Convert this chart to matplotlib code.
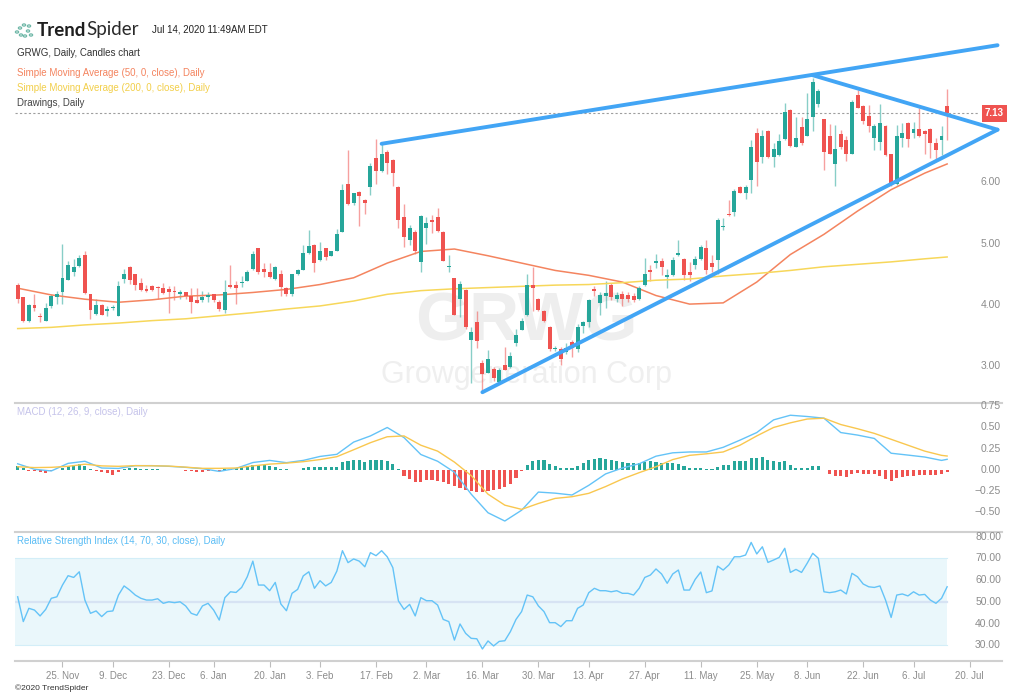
import numpy as np
import pandas as pd
import matplotlib
matplotlib.use("Agg")
import matplotlib.pyplot as plt

# trading sessions (US market holidays removed)
holidays = ["2019-11-28", "2019-12-25", "2020-01-01", "2020-01-20",
            "2020-02-17", "2020-04-10", "2020-05-25", "2020-07-03"]
calendar = pd.bdate_range("2019-11-13", "2020-07-31", freq="C", holidays=holidays)

# GRWG daily candles, 13 Nov 2019 .. 14 Jul 2020
opens = [4.33, 4.12, 3.73, 3.99, 3.82, 3.74, 3.98, 4.13, 4.20, 4.41, 4.54, 4.63, 4.82, 4.17, 3.85, 3.99, 3.89,
         3.94, 3.82, 4.42, 4.62, 4.50, 4.36, 4.25, 4.31, 4.29, 4.27, 4.26, 4.23, 4.18, 4.20, 4.15, 4.08, 4.07,
         4.13, 4.17, 4.05, 3.92, 4.33, 4.32, 4.36, 4.39, 4.59, 4.92, 4.58, 4.54, 4.42, 4.51, 4.27, 4.18, 4.50,
         4.57, 4.84, 4.98, 4.73, 4.92, 4.80, 4.88, 5.19, 5.98, 5.66, 5.84, 5.71, 5.93, 6.39, 6.19, 6.50, 6.36,
         5.93, 5.43, 5.05, 5.19, 4.70, 5.25, 5.38, 5.43, 5.19, 4.62, 4.43, 4.09, 4.24, 3.42, 3.72, 3.05, 2.89,
         2.95, 2.74, 3.02, 2.98, 3.38, 3.59, 3.83, 4.32, 4.10, 3.89, 3.64, 3.27, 3.27, 3.22, 3.39, 3.27, 3.65,
         3.72, 4.25, 4.03, 4.15, 4.32, 4.10, 4.17, 4.16, 4.14, 4.09, 4.32, 4.57, 4.68, 4.72, 4.46, 4.49, 4.81,
         4.74, 4.54, 4.65, 4.74, 4.92, 4.68, 4.73, 5.27, 5.49, 5.52, 5.92, 5.83, 6.03, 6.80, 6.41, 6.84, 6.42,
         6.45, 6.70, 7.18, 6.58, 6.90, 6.76, 7.06, 7.28, 7.03, 6.76, 6.30, 6.79, 6.69, 6.47, 7.43, 7.24, 7.08,
         6.72, 6.66, 6.92, 6.47, 5.97, 6.72, 6.97, 6.81, 6.87, 6.84, 6.87, 6.64, 6.69, 7.25]
highs = [4.36, 4.12, 4.01, 4.17, 3.87, 4.03, 4.17, 4.22, 4.99, 4.71, 4.74, 4.81, 4.88, 4.18, 4.10, 4.01, 3.98,
         3.99, 4.39, 4.59, 4.63, 4.51, 4.43, 4.33, 4.32, 4.31, 4.36, 4.30, 4.31, 4.24, 4.21, 4.27, 4.27, 4.23,
         4.21, 4.18, 4.08, 4.40, 4.65, 4.38, 4.47, 4.57, 4.88, 4.92, 4.68, 4.68, 4.63, 4.57, 4.29, 4.51, 4.59,
         4.98, 5.22, 4.99, 5.03, 4.92, 4.88, 5.23, 5.98, 6.53, 5.83, 5.86, 5.72, 6.31, 6.70, 6.63, 6.52, 6.38,
         5.94, 5.65, 5.30, 5.22, 5.47, 5.43, 5.47, 5.58, 5.20, 4.81, 4.44, 4.38, 4.25, 3.64, 3.89, 3.09, 3.26,
         2.98, 2.96, 3.31, 3.22, 3.60, 3.78, 4.51, 4.61, 4.11, 3.91, 3.65, 3.32, 3.31, 3.37, 3.43, 3.69, 3.74,
         4.10, 4.30, 4.20, 4.38, 4.35, 4.20, 4.23, 4.20, 4.19, 4.31, 4.77, 4.65, 4.83, 4.76, 4.59, 4.78, 5.06,
         4.77, 4.70, 4.80, 4.97, 5.06, 4.81, 5.41, 5.41, 5.71, 5.89, 5.94, 5.96, 6.69, 6.88, 6.86, 6.85, 6.65,
         6.79, 7.30, 7.19, 7.06, 7.06, 7.46, 7.71, 7.52, 7.04, 6.95, 6.94, 6.85, 6.76, 7.34, 7.51, 7.26, 7.26,
         6.95, 7.28, 6.94, 6.47, 6.94, 6.97, 6.99, 6.99, 7.21, 6.85, 6.88, 6.72, 6.92, 7.52]
lows = [4.02, 3.72, 3.72, 3.89, 3.72, 3.73, 3.95, 4.01, 4.01, 4.40, 4.47, 4.62, 4.18, 3.76, 3.84, 3.83, 3.82,
        3.92, 3.81, 4.35, 4.34, 4.24, 4.23, 4.21, 4.23, 4.10, 4.18, 3.86, 4.08, 4.09, 4.09, 3.87, 4.02, 4.05,
        4.05, 4.05, 3.89, 3.87, 4.27, 4.01, 4.29, 4.38, 4.57, 4.50, 4.45, 4.43, 4.40, 4.14, 4.14, 4.14, 4.49,
        4.56, 4.83, 4.54, 4.72, 4.73, 4.79, 4.87, 5.18, 5.63, 5.63, 5.29, 5.49, 5.79, 5.98, 6.17, 6.14, 5.94,
        5.25, 4.94, 4.98, 4.83, 4.54, 5.00, 5.17, 5.19, 4.71, 4.54, 3.83, 3.80, 3.61, 2.72, 3.29, 2.58, 2.88,
        2.76, 2.73, 2.93, 2.96, 3.33, 3.58, 3.82, 3.89, 3.89, 3.71, 3.25, 3.25, 3.02, 3.20, 3.15, 3.22, 3.53,
        3.64, 4.14, 3.83, 3.94, 4.07, 4.05, 3.98, 4.05, 4.05, 4.07, 4.30, 4.39, 4.60, 4.49, 4.27, 4.47, 4.79,
        4.40, 4.39, 4.59, 4.73, 4.51, 4.54, 4.51, 5.22, 5.45, 5.45, 5.82, 5.72, 5.82, 5.94, 6.31, 6.39, 6.25,
        6.43, 6.69, 6.57, 6.57, 6.61, 6.75, 6.84, 7.23, 6.20, 6.46, 5.94, 6.55, 6.35, 6.46, 7.21, 6.96, 6.83,
        6.52, 6.52, 6.43, 5.94, 5.96, 6.57, 6.57, 6.72, 6.74, 6.46, 6.39, 6.37, 6.45, 6.69]
closes = [4.09, 3.73, 3.99, 3.94, 3.80, 3.94, 4.14, 4.17, 4.43, 4.65, 4.62, 4.77, 4.19, 3.92, 3.99, 3.84, 3.93,
          3.96, 4.31, 4.50, 4.41, 4.32, 4.24, 4.22, 4.24, 4.27, 4.19, 4.20, 4.20, 4.21, 4.14, 4.05, 4.02, 4.13,
          4.16, 4.07, 3.93, 4.21, 4.29, 4.27, 4.37, 4.54, 4.83, 4.54, 4.53, 4.46, 4.61, 4.29, 4.18, 4.50, 4.56,
          4.84, 4.96, 4.68, 4.88, 4.78, 4.87, 5.16, 5.88, 5.65, 5.82, 5.77, 5.67, 6.27, 6.19, 6.46, 6.32, 6.15,
          5.39, 5.10, 5.26, 4.87, 5.45, 5.34, 5.35, 5.20, 4.72, 4.64, 3.84, 4.34, 3.63, 3.56, 3.40, 2.87, 3.11,
          2.80, 2.93, 2.94, 3.16, 3.51, 3.74, 4.32, 4.28, 3.92, 3.74, 3.27, 3.29, 3.12, 3.30, 3.30, 3.64, 3.72,
          4.08, 4.23, 4.16, 4.19, 4.13, 4.16, 4.10, 4.09, 4.08, 4.27, 4.50, 4.54, 4.72, 4.62, 4.49, 4.73, 4.84,
          4.49, 4.49, 4.74, 4.94, 4.56, 4.61, 5.38, 5.29, 5.47, 5.85, 5.83, 5.93, 6.58, 6.34, 6.76, 6.41, 6.54,
          6.68, 7.15, 6.59, 6.72, 6.65, 7.03, 7.64, 7.50, 6.50, 6.46, 6.54, 6.57, 6.46, 7.32, 7.22, 7.01, 6.92,
          6.92, 6.97, 6.45, 5.96, 6.76, 6.81, 6.70, 6.87, 6.75, 6.79, 6.64, 6.53, 6.75, 7.13]

# moving averages, read every 6th session (last point = last session)
sma50 = [4.27, 4.16, 4.09, 4.04, 4.08, 4.14, 4.16, 4.20, 4.25, 4.33, 4.44, 4.68, 4.87, 4.91, 4.80,
         4.68, 4.56, 4.48, 4.37, 4.15, 4.01, 4.03, 4.37, 4.82, 5.15, 5.53, 5.88, 6.15, 6.30]
sma200 = [3.61, 3.63, 3.67, 3.70, 3.74, 3.77, 3.82, 3.87, 3.93, 3.98, 4.06, 4.17, 4.23, 4.26, 4.28,
          4.30, 4.32, 4.33, 4.36, 4.40, 4.42, 4.47, 4.51, 4.56, 4.62, 4.66, 4.70, 4.75, 4.78]

# MACD (12, 26, 9) lines, read every 3rd session
macd_line = [0.07, 0.005, -0.015, 0.075, 0.10, 0.02, 0.015, 0.048, 0.048, 0.04, 0.028, 0.012, -0.02,
             0.015, 0.085, 0.11, 0.083, 0.11, 0.157, 0.182, 0.327, 0.40, 0.50, 0.38, 0.18, 0.10, -0.03,
             -0.29, -0.51, -0.608, -0.48, -0.265, -0.278, -0.30, -0.185, -0.05, 0.02, 0.07, 0.16, 0.20,
             0.21, 0.21, 0.265, 0.35, 0.44, 0.59, 0.645, 0.63, 0.61, 0.44, 0.41, 0.37, 0.195, 0.173, 0.15,
             0.11, 0.123]
signal_line = [0.035, 0.025, 0.028, 0.04, 0.065, 0.045, 0.04, 0.048, 0.046, 0.043, 0.03, 0.016, 0.016,
               0.02, 0.045, 0.066, 0.078, 0.095, 0.12, 0.154, 0.236, 0.32, 0.39, 0.40, 0.29, 0.22, 0.09,
               -0.07, -0.29, -0.42, -0.47, -0.40, -0.34, -0.32, -0.28, -0.20, -0.11, -0.035, 0.035, 0.12,
               0.17, 0.188, 0.21, 0.29, 0.40, 0.50, 0.555, 0.60, 0.61, 0.535, 0.485, 0.43, 0.36, 0.29,
               0.22, 0.17, 0.162]
macd_hist = [0.04, 0.02, -0.01, -0.02, -0.03, -0.035, -0.02, -0.005, 0.02, 0.04, 0.06, 0.065, 0.04, 0.01,
             -0.01, -0.03, -0.045, -0.06, -0.03, 0.01, 0.02, 0.02, 0.01, 0.01, 0.003, 0.003, -0.008, -0.008,
             -0.008, -0.008, -0.01, -0.02, -0.03, -0.03, -0.02, -0.02, -0.02, 0.003, 0.01, 0.02, 0.03, 0.04,
             0.055, 0.055, 0.05, 0.04, 0.03, 0.01, 0.004, -0.005, -0.005, 0.02, 0.03, 0.03, 0.03, 0.03, 0.03,
             0.035, 0.09, 0.10, 0.115, 0.11, 0.095, 0.11, 0.11, 0.115, 0.10, 0.07, 0.004, -0.07, -0.11,
             -0.15, -0.14, -0.125, -0.125, -0.135, -0.15, -0.165, -0.195, -0.22, -0.235, -0.25, -0.265,
             -0.27, -0.25, -0.24, -0.225, -0.20, -0.165, -0.10, -0.01, 0.06, 0.10, 0.11, 0.11, 0.07, 0.04,
             0.015, 0.015, 0.02, 0.04, 0.075, 0.115, 0.13, 0.135, 0.13, 0.12, 0.10, 0.095, 0.08, 0.075, 0.08,
             0.09, 0.10, 0.09, 0.08, 0.075, 0.075, 0.065, 0.04, 0.025, 0.02, 0.025, 0.01, 0.004, 0.035, 0.05,
             0.06, 0.10, 0.10, 0.10, 0.135, 0.14, 0.15, 0.12, 0.105, 0.095, 0.10, 0.06, 0.02, 0.015, 0.015,
             0.04, 0.04, -0.005, -0.05, -0.07, -0.08, -0.09, -0.05, -0.04, -0.05, -0.05, -0.05, -0.07, -0.11,
             -0.13, -0.10, -0.09, -0.08, -0.07, -0.06, -0.06, -0.06, -0.06, -0.055, -0.03]

# RSI (14)
rsi = [52.3, 40.9, 47.0, 46.2, 43.5, 46.5, 51.6, 52.3, 57.7, 62.0, 61.2, 63.8, 50.8, 44.7, 45.8, 43.2, 45.5,
       45.8, 53.1, 57.3, 55.4, 53.1, 51.6, 50.8, 50.8, 51.4, 49.3, 50.0, 49.6, 50.0, 48.1, 44.7, 43.8, 48.1,
       49.3, 46.2, 41.6, 51.9, 54.6, 54.3, 56.6, 61.5, 68.7, 57.7, 57.7, 55.1, 58.9, 49.0, 45.9, 53.9, 55.7,
       61.9, 63.8, 56.2, 59.7, 57.3, 58.9, 64.1, 73.5, 68.0, 69.7, 68.7, 66.1, 72.6, 71.2, 73.5, 70.7, 65.7,
       50.4, 46.5, 48.8, 43.5, 51.9, 50.5, 50.5, 48.5, 41.9, 40.9, 32.4, 39.8, 35.5, 33.2, 33.0, 28.3, 32.0,
       29.7, 31.8, 32.1, 36.3, 41.9, 45.5, 53.1, 52.3, 48.1, 45.5, 40.4, 40.4, 38.6, 41.3, 41.3, 47.0, 48.5,
       54.2, 56.2, 55.1, 55.1, 54.6, 55.1, 53.9, 53.9, 53.1, 56.2, 61.2, 62.3, 65.1, 62.8, 58.5, 62.8, 64.6,
       55.4, 55.4, 60.3, 63.7, 54.2, 55.0, 66.4, 64.6, 66.9, 70.7, 70.7, 71.5, 77.3, 72.0, 75.3, 68.1, 69.2,
       70.4, 74.6, 63.5, 64.9, 63.5, 67.7, 72.3, 70.0, 54.6, 54.2, 54.6, 55.4, 53.6, 63.1, 61.5, 58.2, 56.9,
       56.6, 57.3, 50.8, 42.8, 53.1, 53.6, 52.7, 54.6, 53.1, 53.4, 50.8, 49.3, 51.6, 56.9]

# user drawings: ((date, price), (date, price))
drawings = [(("2020-02-19", 6.63), ("2020-07-27", 8.24)),
            (("2020-06-09", 7.75), ("2020-07-27", 6.86)),
            (("2020-03-16", 2.57), ("2020-07-27", 6.86))]

tick_dates = ["2019-11-25", "2019-12-09", "2019-12-23", "2020-01-06", "2020-01-20", "2020-02-03",
              "2020-02-17", "2020-03-02", "2020-03-16", "2020-03-30", "2020-04-13", "2020-04-27",
              "2020-05-11", "2020-05-25", "2020-06-08", "2020-06-22", "2020-07-06", "2020-07-20"]

UP = "#26a69a"
DOWN = "#ef5350"
GREY = "#8c8c8c"
FONT = ["Liberation Sans", "DejaVu Sans"]


def pos(date):
    return calendar.searchsorted(pd.Timestamp(date))


n = len(closes)
x = np.arange(n)
o, h, l, c = map(np.array, (opens, highs, lows, closes))
up = c >= o
col = np.where(up, UP, DOWN)

W, H = 1024, 695
fig = plt.figure(figsize=(W / 100, H / 100), dpi=100)


def box(top, bottom):
    return [15 / W, 1 - bottom / H, (1002 - 15) / W, (bottom - top) / H]


ax = fig.add_axes(box(0, 403))
ax_macd = fig.add_axes(box(403, 532), sharex=ax)
ax_rsi = fig.add_axes(box(532, 661), sharex=ax)

for a in (ax, ax_macd, ax_rsi):
    for s in a.spines.values():
        s.set_visible(False)
    a.tick_params(left=False, right=False, labelleft=False, bottom=False, labelbottom=False)

ax.set_xlim(-0.48, 175.8)
ax.set_ylim(2.394, 8.979)
ax_macd.set_ylim(-0.738, 0.790)
ax_rsi.set_ylim(22.78, 82.09)

# watermark
ax.text(0.518, 0.2, "GRWG", transform=ax.transAxes, ha="center", va="center", fontsize=50,
        fontweight="bold", color="#eeeeee", family=FONT, zorder=0)
ax.text(0.518, 0.07, "Growgeneration Corp", transform=ax.transAxes, ha="center", va="center",
        fontsize=22, color="#efefef", family=FONT, zorder=0)

# candles
ax.vlines(x, l, h, colors=col, linewidth=1, alpha=0.55, zorder=2)
ax.bar(x, np.maximum(np.abs(c - o), 0.015), bottom=np.minimum(o, c), width=0.7, color=col,
       linewidth=0, zorder=3)

# moving averages
sma_x = list(range(0, n - 1, 6)) + [n - 1]
ax.plot(sma_x, sma50, color="#f4845f", lw=1.1, zorder=2)
ax.plot(sma_x, sma200, color="#f7d75a", lw=1.1, zorder=2)

# drawings
for (d0, p0), (d1, p1) in drawings:
    ax.plot([pos(d0), pos(d1)], [p0, p1], color="#42a5f5", lw=2.8, solid_capstyle="round", zorder=5)

# last price line + tag
ax.plot([-0.48, 171.5], [c[-1], c[-1]], color="#9e9e9e", lw=0.8, ls=(0, (2, 2)), zorder=1)
ax.text(0.9924, c[-1], f"{c[-1]:.2f}", transform=ax.get_yaxis_transform(), ha="center", va="center",
        fontsize=7, fontweight="bold", color="white", family=FONT, zorder=6,
        bbox=dict(boxstyle="square,pad=0.35", fc=DOWN, ec="none"))

for v in [3, 4, 5, 6]:
    ax.text(0.999, v, f"{v:.2f}", transform=ax.get_yaxis_transform(), ha="right", va="center",
            fontsize=7.5, color=GREY, family=FONT)

# MACD panel
macd_x = list(range(0, n - 1, 3)) + [n - 1]
hist = np.array(macd_hist)
ax_macd.bar(x, hist, width=0.55, color=np.where(hist >= 0, UP, DOWN), linewidth=0, zorder=2)
ax_macd.plot(macd_x, macd_line, color="#64c3f7", lw=1.0, zorder=3)
ax_macd.plot(macd_x, signal_line, color="#f9c74f", lw=1.0, zorder=3)
for v in [0.75, 0.5, 0.25, 0.0, -0.25, -0.5]:
    ax_macd.text(0.999, v, f"{v:.2f}".replace("-", "\u2212"), transform=ax_macd.get_yaxis_transform(),
                 ha="right", va="center", fontsize=7.5, color=GREY, family=FONT)
ax_macd.spines["top"].set_visible(True)
ax_macd.spines["top"].set_color("#d0d0d0")
ax_macd.spines["top"].set_linewidth(1.5)
ax_macd.text(0.002, 0.93, "MACD (12, 26, 9, close), Daily", transform=ax_macd.transAxes, ha="left",
             va="center", fontsize=7, color="#c5c3ea", family=FONT)

# RSI panel
ax_rsi.fill_between([-0.48, n - 1], 30, 70, color="#eaf7fb", lw=0, zorder=0)
ax_rsi.plot([-0.48, n - 1], [70, 70], color="#d3eef8", lw=0.8, zorder=1)
ax_rsi.plot([-0.48, n - 1], [30, 30], color="#d3eef8", lw=0.8, zorder=1)
ax_rsi.plot([-0.48, n - 1], [50, 50], color="#d7e3f3", lw=1.6, zorder=1)
ax_rsi.plot(x, rsi, color="#64c3f7", lw=1.0, zorder=3)
for v in [80, 70, 60, 50, 40, 30]:
    ax_rsi.text(0.999, v, f"{v:.2f}", transform=ax_rsi.get_yaxis_transform(), ha="right", va="center",
                fontsize=7.5, color=GREY, family=FONT)
for side in ("top", "bottom"):
    ax_rsi.spines[side].set_visible(True)
    ax_rsi.spines[side].set_color("#d0d0d0")
    ax_rsi.spines[side].set_linewidth(1.5)
ax_rsi.text(0.002, 0.93, "Relative Strength Index (14, 70, 30, close), Daily", transform=ax_rsi.transAxes,
            ha="left", va="center", fontsize=7, color="#5bbdf5", family=FONT)

ticks = [pos(d) for d in tick_dates]
labels = [f"{pd.Timestamp(d).day}. {pd.Timestamp(d):%b}" for d in tick_dates]
ax_rsi.set_xticks(ticks)
ax_rsi.set_xticklabels(labels, fontsize=7, color=GREY, family=FONT)
ax_rsi.tick_params(axis="x", bottom=True, labelbottom=True, direction="out", length=4, width=0.8,
                   color="#bdbdbd", pad=3)

# header
logo_dots = [(17, 32), (20, 28), (21, 35), (24, 25), (25, 36), (28, 31), (29, 26), (31, 35)]
for px, py in logo_dots:
    fig.patches.append(plt.Circle((px / W, 1 - py / H), 1.6 / W, transform=fig.transFigure,
                                  fill=False, ec="#6fb8a8", lw=0.9))
fig.text(37 / W, 1 - 30 / H, "Trend", fontsize=13.5, fontweight="bold", color="#1e1e1e",
         family=["Lato", "DejaVu Sans"], va="center")
fig.text(86 / W, 1 - 30 / H, "Spider", fontsize=13.5, color="#2a2a2a", family=["Lato", "DejaVu Sans"],
         va="center")
fig.text(152 / W, 1 - 30 / H, "Jul 14, 2020 11:49AM EDT", fontsize=7, color="#222222", family=FONT,
         va="center")
fig.text(17 / W, 1 - 53 / H, "GRWG, Daily, Candles chart", fontsize=7, color="#333333", family=FONT,
         va="center")
fig.text(17 / W, 1 - 73 / H, "Simple Moving Average (50, 0, close), Daily", fontsize=7, color="#f4845f",
         family=FONT, va="center")
fig.text(17 / W, 1 - 88 / H, "Simple Moving Average (200, 0, close), Daily", fontsize=7,
         color="#f2cf4a", family=FONT, va="center")
fig.text(17 / W, 1 - 103 / H, "Drawings, Daily", fontsize=7, color="#444444", family=FONT, va="center")
fig.text(15 / W, 1 - 688 / H, "\u00a92020 TrendSpider", fontsize=6, color="#333333", family=FONT,
         va="center")

fig.savefig("out.png", dpi=100, facecolor="white")
